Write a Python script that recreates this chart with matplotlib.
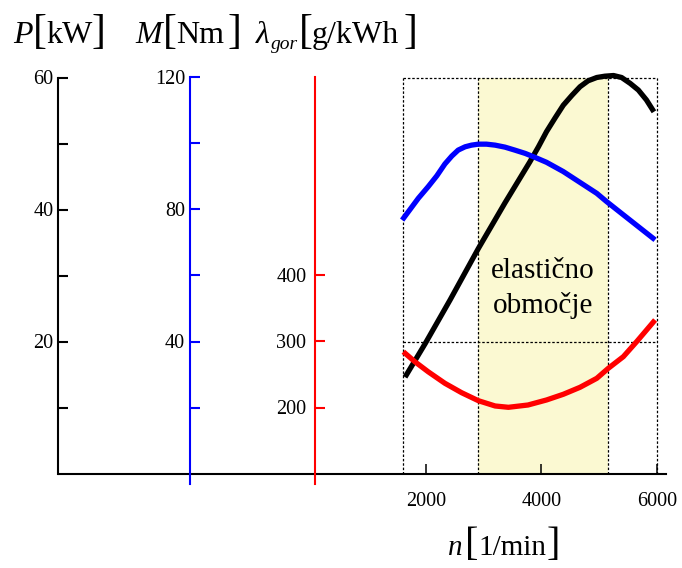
import matplotlib
matplotlib.use("Agg")
import matplotlib.pyplot as plt

plt.rcParams['font.family'] = ['Liberation Serif', 'DejaVu Serif']

# ---- engine characteristics -------------------------------------------
# effective power P [kW] over engine speed n [1/min]
n_power = [1640, 1990, 2420, 2910, 3370, 3800, 3950, 4090, 4240, 4380,
           4530, 4670, 4810, 4960, 5100, 5250, 5390, 5540, 5680, 5820, 5950]
power_kw = [14.6, 19.7, 26.3, 34.1, 41.0, 47.2, 49.5, 51.8, 53.9, 55.8,
            57.3, 58.6, 59.5, 60.0, 60.2, 60.3, 60.0, 59.1, 58.1, 56.6, 54.8]

# torque M [Nm]
n_torque = [1590, 1730, 1870, 2040, 2190, 2330, 2450, 2560, 2680, 2790,
            2910, 3050, 3200, 3370, 3540, 3720, 3890, 4090, 4380, 4670,
            4960, 5130, 5390, 5680, 5970]
torque_nm = [76.8, 80.1, 83.4, 86.9, 90.2, 93.8, 96.2, 98.0, 99.0, 99.5,
             99.8, 99.8, 99.5, 98.9, 98.0, 97.0, 95.8, 94.3, 91.5, 88.2,
             84.9, 82.4, 78.8, 74.8, 70.8]

# specific fuel consumption lambda_gor [g/kWh]
n_bsfc = [1610, 1810, 2040, 2330, 2620, 2910, 3200, 3430, 3770, 4090,
          4380, 4670, 4960, 5160, 5420, 5650, 5970]
bsfc = [284.5, 269.4, 254.2, 236.7, 222.4, 210.3, 202.3, 200.3, 203.8,
        211.4, 220.0, 230.6, 244.2, 259.4, 277.0, 299.7, 332.6]

n_range = [1600, 6000]        # measured speed range
n_elastic = [2900, 5150]      # elastic range (max torque .. max power)
p_grid = [20, 60]             # horizontal reference lines [kW]

n_ticks = [2000, 4000, 6000]
p_major, p_minor = [20, 40, 60], [10, 30, 50]
m_major, m_minor = [40, 80, 120], [20, 60, 100]
bsfc_ticks = [200, 300, 400]

# ---- figure geometry (pixels) -----------------------------------------
W, H, DPI = 682, 568, 100
X0, KX = 310.33, 0.05775       # px = X0 + KX * n
Y0, KY = 473.5, 6.6            # px = Y0 - KY * P
AX_L, AX_R = 58.5, 665.6
P_TOP = 62

n_lo = (AX_L - X0) / KX
n_hi = (AX_R - X0) / KX

fig = plt.figure(figsize=(W / DPI, H / DPI), dpi=DPI)
ax = fig.add_axes([AX_L / W, (H - Y0) / H, (AX_R - AX_L) / W, P_TOP * KY / H])
ax.set_xlim(n_lo, n_hi)
ax.set_ylim(0, P_TOP)
ax.patch.set_visible(False)

for s in ('top', 'right'):
    ax.spines[s].set_visible(False)
ax.spines['left'].set_bounds(0, 60)
ax.spines['left'].set_linewidth(1.5)
ax.spines['bottom'].set_linewidth(1.5)

TICK_FS = 14.5
ax.set_yticks(p_major)
ax.set_yticks(p_minor, minor=True)
ax.tick_params(axis='y', which='both', direction='in', length=7.2, width=1.5,
               labelsize=TICK_FS, pad=3.6)
ax.set_xticks(n_ticks)
ax.set_xticklabels([str(v) for v in n_ticks])
ax.tick_params(axis='x', direction='in', length=7.2, width=1.1,
               labelsize=TICK_FS, pad=13)

# elastic range and dotted frame
ax.fill_between(n_elastic, 0, 60, color='#FBF9D2', lw=0, zorder=0.5)
dot = dict(color='black', lw=0.9, ls=(0, (2, 1.5)), zorder=1)
for n in n_range + n_elastic:
    ax.plot([n, n], [0, 60], **dot)
for p in p_grid:
    ax.plot(n_range, [p, p], **dot)

ax.plot(n_power, power_kw, color='black', lw=3.8, solid_capstyle='butt',
        solid_joinstyle='round', zorder=3, clip_on=False)

n_mid = sum(n_elastic) / 2
ax.text(n_mid, (Y0 - 278) / KY, 'elastično', ha='center', va='baseline',
        fontsize=21, zorder=4)
ax.text(n_mid, (Y0 - 313) / KY, 'območje', ha='center', va='baseline',
        fontsize=21, zorder=4)


def side_axis(ymax_scale, y_lo, color, xpx, bounds):
    t = ax.twinx()
    t.set_ylim(y_lo, y_lo + P_TOP * ymax_scale)
    for s in ('top', 'right', 'bottom'):
        t.spines[s].set_visible(False)
    sp = t.spines['left']
    sp.set_visible(True)
    sp.set_position(('axes', (xpx - AX_L) / (AX_R - AX_L)))
    sp.set_color(color)
    sp.set_linewidth(1.5)
    sp.set_bounds(*bounds)
    t.yaxis.tick_left()
    t.yaxis.set_label_position('left')
    return t


# torque axis (blue)
axM = side_axis(2.0, 0, 'blue', 190, (-3.2, 120))
axM.set_yticks(m_major)
axM.set_yticks(m_minor, minor=True)
axM.tick_params(axis='y', which='both', direction='in', length=7.2, width=1.5,
                color='blue', labelcolor='black', labelsize=TICK_FS, pad=3.6)
axM.plot(n_torque, torque_nm, color='blue', lw=3.8, solid_capstyle='butt',
         solid_joinstyle='round', zorder=3)

# fuel consumption axis (red)
axL = side_axis(10.0, 100, 'red', 314.8, (84, 701))
axL.set_yticks(bsfc_ticks)
axL.tick_params(axis='y', direction='in', length=7.2, width=1.5,
                color='red', labelcolor='black', labelsize=TICK_FS, pad=6)
axL.plot(n_bsfc, bsfc, color='red', lw=3.8, solid_capstyle='butt',
         solid_joinstyle='round', zorder=3)


# ---- axis titles -------------------------------------------------------
def put(xp, yp, s, size, italic=False):
    fig.text(xp / W, 1 - yp / H, s, ha='left', va='baseline', fontsize=size,
             style='italic' if italic else 'normal')


TS, BS = 23, 30
BASE = 43.3
put(12.7, BASE, 'P', TS, True)
put(33.0, BASE, '[', BS)
put(46.5, BASE, 'kW', TS)
put(91.5, BASE, ']', BS)

put(135.0, BASE, 'M', TS, True)
put(162.5, BASE, '[', BS)
put(176.5, BASE, 'Nm', TS)
put(228.0, BASE, ']', BS)

put(256.0, BASE, 'λ', TS, True)
put(271.0, BASE + 6, 'gor', 14, True)
put(298.5, BASE, '[', BS)
put(311.5, BASE, 'g/kWh', TS)
put(404.0, BASE, ']', BS)

NS, NBS = 21, 29
NB = 555
put(448.0, NB, 'n', NS, True)
put(465.0, NB, '[', NBS)
put(478.0, NB, '1/min', NS)
put(547.0, NB, ']', NBS)

fig.savefig('out.png', dpi=DPI)
